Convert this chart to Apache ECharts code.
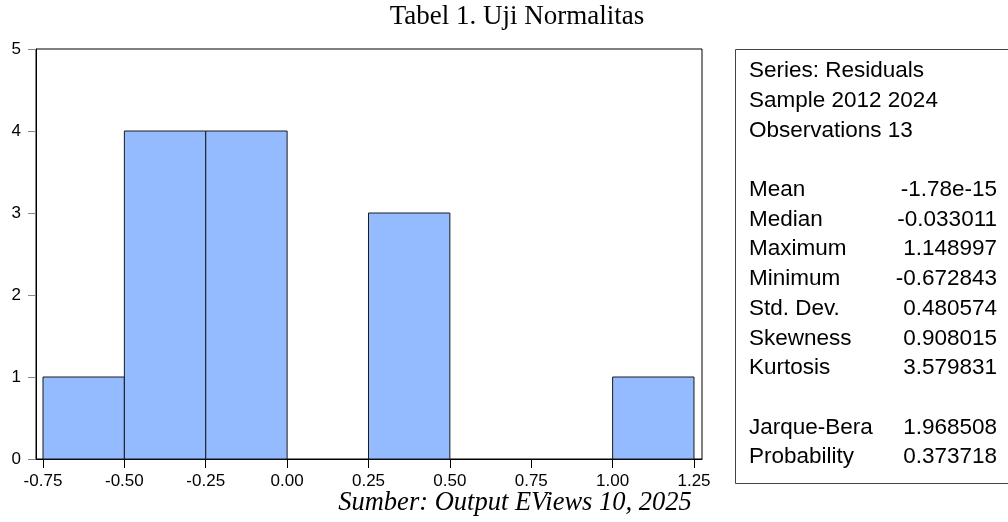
<!DOCTYPE html>
<html>
<head>
<meta charset="utf-8">
<script src="https://cdn.jsdelivr.net/npm/echarts@6/dist/echarts.min.js"></script>
<style>html,body{margin:0;padding:0;background:#fff}#c{width:1008px;height:522px}</style>
</head>
<body>
<div id="c"></div>
<script>
// Histogram bins: [start, end, count]
var binStarts = [-0.75, -0.50, -0.25, 0.00, 0.25, 0.50, 0.75, 1.00];
var binEnds   = [-0.50, -0.25, 0.00, 0.25, 0.50, 0.75, 1.00, 1.25];
var binCounts = [1, 4, 4, 0, 3, 0, 0, 1];
var xTicks = [-0.75, -0.50, -0.25, 0.00, 0.25, 0.50, 0.75, 1.00, 1.25];
var yTicks = [0, 1, 2, 3, 4, 5];
var statHeader = ['Series: Residuals', 'Sample 2012 2024', 'Observations 13'];
var statLabels = ['Mean', 'Median', 'Maximum', 'Minimum', 'Std. Dev.', 'Skewness', 'Kurtosis'];
var statValues = ['-1.78e-15', '-0.033011', '1.148997', '-0.672843', '0.480574', '0.908015', '3.579831'];
var testLabels = ['Jarque-Bera', 'Probability'];
var testValues = ['1.968508', '0.373718'];
var titleText = 'Tabel 1. Uji Normalitas';
var captionText = 'Sumber: Output EViews 10, 2025';

var chart = echarts.init(document.getElementById('c'));
var data = binStarts.map(function (s, i) { return [s, binEnds[i], binCounts[i]]; });

var SANS = 'Arial, "Liberation Sans", sans-serif';
var SERIF = '"Times New Roman", "Liberation Serif", serif';
var statFont = 22.5, lineH = 29.7, boxX = 735, boxTop = 49, boxBottom = 483, firstY = 71;

var graphics = [{
  type: 'rect', shape: { x: boxX + 0.5, y: boxTop + 0.5, width: 1008 - boxX + 10, height: boxBottom - boxTop },
  style: { fill: '#fff', stroke: '#444', lineWidth: 1 }, silent: true
}];
var rows = [];
statHeader.forEach(function (t) { rows.push([t, null]); });
rows.push(null);
statLabels.forEach(function (t, i) { rows.push([t, statValues[i]]); });
rows.push(null);
testLabels.forEach(function (t, i) { rows.push([t, testValues[i]]); });
rows.forEach(function (r, i) {
  if (!r) return;
  var y = firstY + i * lineH;
  graphics.push({ type: 'text', x: 749, y: y, style: { text: r[0], font: statFont + 'px ' + SANS, fill: '#000', textVerticalAlign: 'middle', textAlign: 'left' }, silent: true });
  if (r[1] !== null) graphics.push({ type: 'text', x: 997, y: y, style: { text: r[1], font: statFont + 'px ' + SANS, fill: '#000', textVerticalAlign: 'middle', textAlign: 'right' }, silent: true });
});
graphics.push({ type: 'text', x: 517, y: 17, style: { text: titleText, font: '27px ' + SERIF, fill: '#000', textAlign: 'center', textVerticalAlign: 'middle' }, silent: true });
graphics.push({ type: 'text', x: 515, y: 503, style: { text: captionText, font: 'italic 26.5px ' + SERIF, fill: '#000', textAlign: 'center', textVerticalAlign: 'middle' }, silent: true });

chart.setOption({
  animation: false,
  grid: { left: 36, right: 1008 - 702, top: 49, bottom: 522 - 459, show: true, borderColor: '#000', borderWidth: 1, backgroundColor: '#fff' },
  xAxis: {
    type: 'value', min: -0.7715, max: 1.2746,
    axisLine: { show: true, onZero: false, lineStyle: { color: '#000' } },
    axisTick: { show: true, length: 9, lineStyle: { color: '#000' }, customValues: xTicks },
    axisLabel: { customValues: xTicks, margin: 14, fontSize: 17, fontFamily: SANS, color: '#000', formatter: function (v) { return v.toFixed(2); } },
    splitLine: { show: false }
  },
  yAxis: {
    type: 'value', min: 0, max: 5, interval: 1,
    axisLine: { show: true, onZero: false, lineStyle: { color: '#000' } },
    axisTick: { show: true, length: 8, lineStyle: { color: '#888' } },
    axisLabel: { margin: 15, fontSize: 17, fontFamily: SANS, color: '#000', padding: [0, 0, 9, 0], customValues: yTicks },
    splitLine: { show: false }
  },
  series: [{
    type: 'custom',
    data: data,
    encode: { x: [0, 1], y: 2 },
    renderItem: function (params, api) {
      var c = api.value(2);
      if (!c) return null;
      var p0 = api.coord([api.value(0), c]);
      var p1 = api.coord([api.value(1), 0]);
      return { type: 'rect', shape: { x: p0[0], y: p0[1], width: p1[0] - p0[0], height: p1[1] - p0[1] },
        style: { fill: '#94BAFF', stroke: '#1a1a1a', lineWidth: 1 } };
    }
  }],
  graphic: graphics
});
</script>
</body>
</html>
